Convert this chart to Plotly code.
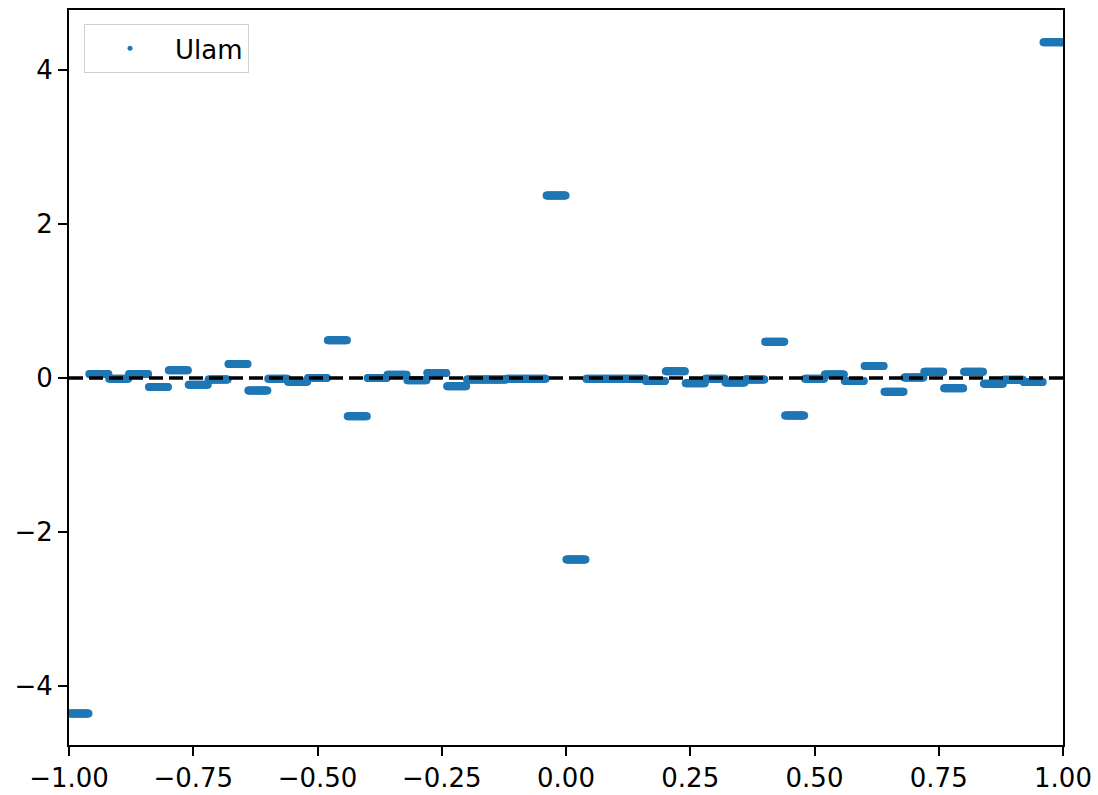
import numpy as np
import plotly.graph_objects as go

# Step levels of the Ulam approximation on 50 equal cells of [-1, 1]
cell_edges_left = [-1.00 + 0.04 * k for k in range(50)]
cell_width = 0.04
cell_values = [
    -4.36, 0.05, -0.01, 0.05, -0.12, 0.10, -0.09, -0.02, 0.18, -0.165,
    -0.01, -0.05, 0.00, 0.49, -0.50, 0.00, 0.04, -0.03, 0.065, -0.11,
    -0.02, -0.02, -0.01, -0.01, 2.37, -2.36, -0.01, -0.01, -0.01, -0.04,
    0.085, -0.07, -0.01, -0.06, -0.02, 0.47, -0.49, -0.01, 0.045, -0.04,
    0.155, -0.18, 0.005, 0.08, -0.135, 0.08, -0.075, -0.025, -0.055, 4.36,
]
samples_per_cell = 24

x_tick_vals = [-1.0, -0.75, -0.5, -0.25, 0.0, 0.25, 0.5, 0.75, 1.0]
y_tick_vals = [-4, -2, 0, 2, 4]

# Sample points inside each cell, each carrying its cell's level
xs, ys = [], []
for left, val in zip(cell_edges_left, cell_values):
    pts = left + cell_width * (np.arange(samples_per_cell) + 0.5) / samples_per_cell
    xs.extend(pts.tolist())
    ys.extend([val] * samples_per_cell)

blue = "#1f77b4"
font_family = "DejaVu Sans"

fig = go.Figure()
fig.add_trace(go.Scatter(
    x=xs, y=ys, mode="markers",
    marker=dict(color=blue, size=8, line=dict(width=0)),
    showlegend=False, hoverinfo="skip",
))
# legend entry (small dot, as in the reference legend)
fig.add_trace(go.Scatter(
    x=[None], y=[None], mode="markers", name="Ulam",
    marker=dict(color=blue, size=5),
))
# dashed zero line
fig.add_trace(go.Scatter(
    x=[-1, 1], y=[0, 0], mode="lines",
    line=dict(color="black", width=3.5, dash="14px,6px"),
    showlegend=False, hoverinfo="skip",
))

axis_common = dict(
    showline=True, linecolor="black", linewidth=2, mirror=True,
    ticks="outside", ticklen=9, tickwidth=2, tickcolor="black",
    showgrid=False, zeroline=False, automargin=False,
    tickfont=dict(family=font_family, size=26, color="black"),
)

fig.update_layout(
    width=1098, height=795,
    margin=dict(l=69, r=35, t=10, b=50),
    paper_bgcolor="white", plot_bgcolor="white",
    xaxis=dict(range=[-1, 1], tickvals=x_tick_vals, tickformat=".2f", **axis_common),
    yaxis=dict(range=[-4.77, 4.78], tickvals=y_tick_vals, tickformat="d", **axis_common),
    legend=dict(
        x=0.0151, y=0.981, xanchor="left", yanchor="top",
        bgcolor="rgba(255,255,255,0.8)", bordercolor="#d0d0d0", borderwidth=1,
        font=dict(family=font_family, size=26, color="black"),
        itemwidth=80,
    ),
    font=dict(family=font_family),
)

fig.write_html("out.html")
